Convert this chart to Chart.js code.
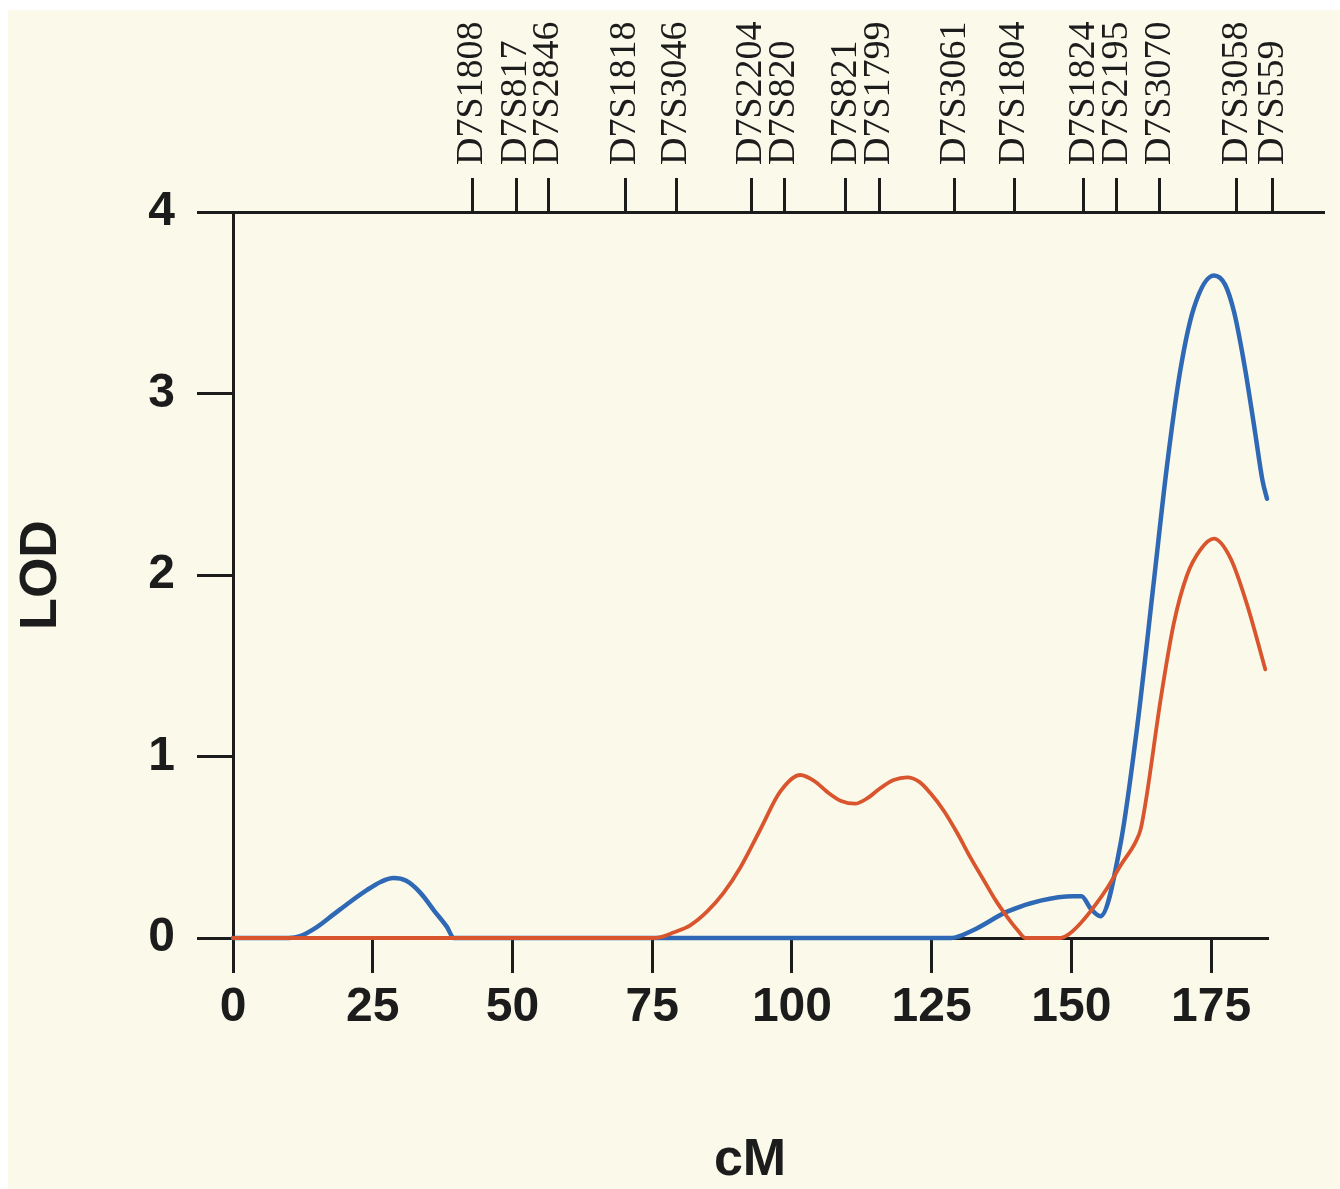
<!DOCTYPE html>
<html>
<head>
<meta charset="utf-8">
<script src="https://cdn.jsdelivr.net/npm/chart.js@4.4.1/dist/chart.umd.min.js"></script>
<style>
  html, body { margin: 0; padding: 0; background: #ffffff; }
  #paper { position: absolute; left: 8px; top: 10px; width: 1332px; height: 1179px; background: #fbfaea; }
  #wrap { position: absolute; left: 0; top: 0; width: 1340px; height: 1189px; }
</style>
</head>
<body>
<div id="paper"></div>
<div id="wrap"><canvas id="lod" width="1340" height="1189"></canvas></div>
<script>
// LOD score along chromosome 7 (cM)
const xTicks = [0, 25, 50, 75, 100, 125, 150, 175];
const yTicks = [0, 1, 2, 3, 4];

const markerNames = ['D7S1808', 'D7S817', 'D7S2846', 'D7S1818', 'D7S3046', 'D7S2204', 'D7S820', 'D7S821',
  'D7S1799', 'D7S3061', 'D7S1804', 'D7S1824', 'D7S2195', 'D7S3070', 'D7S3058', 'D7S559'];
const markerCM = [42.8, 50.7, 56.4, 70.2, 79.3, 92.7, 98.6, 109.6, 115.6, 129.1, 139.8, 152.2, 158.1, 165.8, 179.6, 186.0];

const blueCM = [0, 10, 12, 15, 18, 21, 24, 26.5, 28.7, 31, 33.5, 36, 38.3, 39.5, 50, 75, 100, 125, 128.5,
  132.5, 138.5, 144.5, 150.4, 151.8, 153.5, 155.2, 158.8, 161.8, 164.7, 167.1, 169.5, 171.9, 175.5, 177.5,
  179.1, 181, 182.8, 184.2, 185];
const blueLOD = [0, 0, 0.01, 0.06, 0.13, 0.2, 0.265, 0.31, 0.33, 0.315, 0.25, 0.15, 0.06, 0, 0, 0, 0, 0, 0,
  0.044, 0.145, 0.206, 0.23, 0.23, 0.16, 0.12, 0.52, 1.17, 1.95, 2.6, 3.13, 3.47, 3.65, 3.6,
  3.45, 3.15, 2.8, 2.52, 2.42];

const redCM = [0, 50, 75, 76.5, 78.8, 81.8, 84.8, 87.8, 90.8, 94.3, 97.9, 101.5, 104, 106.3, 108.8, 111.3, 113.5,
  115.8, 118.2, 120.6, 122.8, 124.8, 127.2, 129.6, 132, 134.3, 136.4, 138.5, 140.2, 141.8, 148, 149.5, 151.6,
  154, 156.5, 158.8, 161.5, 162.4, 163.3, 166, 168.3, 170.7, 173.1, 175.5, 178.5, 181.5, 184.7];
const redLOD = [0, 0, 0, 0.005, 0.03, 0.07, 0.145, 0.25, 0.39, 0.595, 0.806, 0.898, 0.865, 0.805, 0.755, 0.74, 0.77,
  0.825, 0.87, 0.885, 0.86, 0.797, 0.7, 0.577, 0.44, 0.32, 0.21, 0.117, 0.05, 0, 0, 0.02, 0.08,
  0.17, 0.28, 0.4, 0.53, 0.6, 0.75, 1.32, 1.73, 2.0, 2.14, 2.20, 2.09, 1.83, 1.48];

const INK = '#1c1c1c';
const MARKER_FONT = 38;
const toPts = (xs, ys) => xs.map((x, i) => ({ x, y: ys[i] }));

// the top marker axis runs a bit past the plot on the right
const topAxisTail = {
  id: 'topAxisTail',
  afterDraw(chart) {
    const s = chart.scales.x2;
    const ctx = chart.ctx;
    ctx.save();
    ctx.strokeStyle = INK;
    ctx.lineWidth = 3;
    ctx.beginPath();
    ctx.moveTo(chart.chartArea.right - 2, Math.round(s.bottom) + 0.5);
    ctx.lineTo(chart.chartArea.right + 58, Math.round(s.bottom) + 0.5);
    ctx.stroke();
    ctx.restore();
  },
};

new Chart(document.getElementById('lod'), {
  type: 'line',
  data: {
    datasets: [
      { label: 'red', data: toPts(redCM, redLOD), borderColor: '#d8552e', borderWidth: 3.8 },
      { label: 'blue', data: toPts(blueCM, blueLOD), borderColor: '#2f69b6', borderWidth: 4.5 },
    ],
  },
  options: {
    responsive: false,
    animation: false,
    devicePixelRatio: 1,
    layout: { padding: { top: 0, left: 0, bottom: 0, right: 73 } },
    elements: {
      point: { radius: 0 },
      line: { cubicInterpolationMode: 'monotone', borderCapStyle: 'round', borderJoinStyle: 'round' },
    },
    datasets: { line: { clip: false } },
    plugins: { legend: { display: false }, tooltip: { enabled: false } },
    scales: {
      x: {
        type: 'linear', position: 'bottom', min: 0, max: 185,
        afterBuildTicks: s => { s.ticks = xTicks.map(v => ({ value: v })); },
        afterFit: s => { s.height = 251; },
        ticks: { color: INK, padding: 6, font: { family: '"Liberation Sans", Arial, sans-serif', size: 48, weight: 'bold' } },
        grid: { drawOnChartArea: false, tickLength: 35, lineWidth: 3, color: INK },
        border: { display: true, width: 3, color: INK },
        title: {
          display: true, text: 'cM', color: INK, padding: { top: 0, bottom: 0 },
          font: { family: '"Liberation Sans", Arial, sans-serif', size: 52, weight: 'bold', lineHeight: 1.1 },
        },
      },
      x2: {
        type: 'linear', position: 'top', min: 0, max: 185,
        afterBuildTicks: s => { s.ticks = markerCM.map(v => ({ value: v })); },
        afterFit: s => { s.height = 212; },
        ticks: {
          autoSkip: false, minRotation: 90, maxRotation: 90, padding: 13, color: INK,
          // rotated top labels sit one line-height left of their tick, push them back
          labelOffset: MARKER_FONT * 1.2,
          callback: (v, i) => markerNames[i],
          font: { family: '"Liberation Serif", "Times New Roman", serif', size: MARKER_FONT },
        },
        grid: { drawOnChartArea: false, tickLength: 34, lineWidth: 3, color: INK },
        border: { display: true, width: 3, color: INK },
      },
      y: {
        min: 0, max: 4,
        afterBuildTicks: s => { s.ticks = yTicks.map(v => ({ value: v })); },
        afterFit: s => { s.width = 233; },
        ticks: { color: INK, padding: 22, font: { family: '"Liberation Sans", Arial, sans-serif', size: 48, weight: 'bold' } },
        grid: { drawOnChartArea: false, tickLength: 36, lineWidth: 3, color: INK },
        border: { display: true, width: 3, color: INK },
        title: {
          display: true, text: 'LOD', color: INK, padding: { top: 10, bottom: 0 },
          font: { family: '"Liberation Sans", Arial, sans-serif', size: 52, weight: 'bold' },
        },
      },
    },
  },
  plugins: [topAxisTail],
});
</script>
</body>
</html>
